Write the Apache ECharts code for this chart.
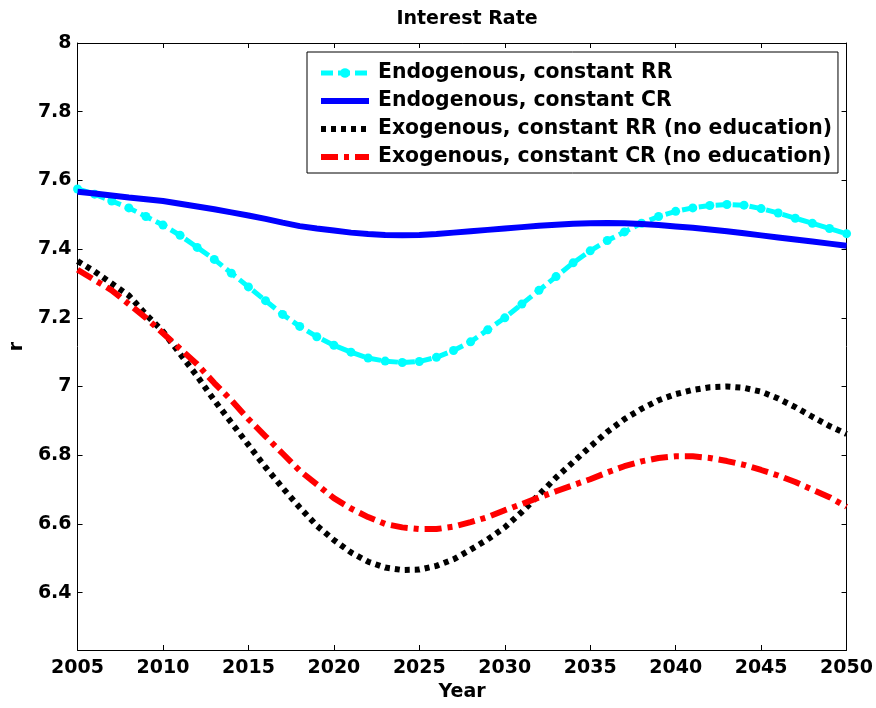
<!DOCTYPE html>
<html>
<head>
<meta charset="utf-8">
<script src="https://cdn.jsdelivr.net/npm/echarts@6/dist/echarts.min.js"></script>
<style>html,body{margin:0;padding:0;background:#fff}#chart{width:876px;height:708px}</style>
</head>
<body>
<div id="chart"></div>
<script>
const years = [2005,2006,2007,2008,2009,2010,2011,2012,2013,2014,2015,2016,2017,2018,2019,2020,2021,2022,2023,2024,2025,2026,2027,2028,2029,2030,2031,2032,2033,2034,2035,2036,2037,2038,2039,2040,2041,2042,2043,2044,2045,2046,2047,2048,2049,2050];
const endoRR = [7.575,7.56,7.54,7.52,7.495,7.47,7.44,7.405,7.37,7.33,7.29,7.25,7.21,7.175,7.145,7.12,7.1,7.083,7.074,7.07,7.073,7.085,7.105,7.13,7.165,7.2,7.24,7.28,7.32,7.36,7.395,7.425,7.45,7.475,7.495,7.51,7.52,7.527,7.53,7.528,7.518,7.505,7.49,7.475,7.46,7.445];
const endoCR = [7.567,7.562,7.556,7.55,7.545,7.54,7.532,7.524,7.516,7.507,7.498,7.488,7.477,7.467,7.46,7.454,7.448,7.444,7.441,7.44,7.441,7.444,7.448,7.452,7.456,7.46,7.464,7.468,7.471,7.474,7.475,7.476,7.475,7.473,7.47,7.466,7.462,7.457,7.452,7.446,7.44,7.434,7.428,7.422,7.416,7.41];
const exoRR = [7.365,7.335,7.3,7.265,7.21,7.16,7.095,7.03,6.96,6.895,6.83,6.765,6.705,6.648,6.595,6.553,6.517,6.49,6.473,6.466,6.467,6.478,6.497,6.525,6.555,6.59,6.635,6.685,6.735,6.78,6.825,6.868,6.905,6.935,6.96,6.978,6.99,6.998,7.0,6.996,6.985,6.965,6.94,6.912,6.885,6.862];
const exoCR = [7.34,7.31,7.28,7.24,7.2,7.155,7.11,7.065,7.01,6.96,6.905,6.855,6.805,6.755,6.715,6.675,6.645,6.62,6.6,6.59,6.585,6.585,6.592,6.605,6.62,6.64,6.658,6.677,6.695,6.713,6.73,6.75,6.768,6.782,6.792,6.797,6.797,6.792,6.783,6.772,6.757,6.741,6.722,6.7,6.678,6.65];
const yTicks = [6.4,6.6,6.8,7,7.2,7.4,7.6,7.8,8];
const names = ['Endogenous, constant RR','Endogenous, constant CR','Exogenous, constant RR (no education)','Exogenous, constant CR (no education)'];

const pair = arr => years.map((y,i)=>[y,arr[i]]);
const FONT = 'DejaVu Sans';
const chart = echarts.init(document.getElementById('chart'));
const axisCommon = {
  axisLine:{show:true,onZero:false,lineStyle:{color:'#000',width:1}},
  axisTick:{show:true,inside:true,length:5,lineStyle:{color:'#000'}},
  splitLine:{show:false}
};
chart.setOption({
  animation:false,
  backgroundColor:'#fff',
  title:{text:'Interest Rate',left:462,top:5,textAlign:'center',
    textStyle:{fontFamily:FONT,fontWeight:'bold',fontSize:19,color:'#000'}},
  grid:{left:76,right:28,top:43,bottom:58},
  legend:{
    orient:'vertical',left:307,top:52,
    padding:[11,6,6,11],itemGap:8,itemWidth:48,itemHeight:12,
    backgroundColor:'#fff',borderColor:'#000',borderWidth:1,
    textStyle:{fontFamily:FONT,fontWeight:'bold',fontSize:20.4,color:'#000',padding:[0,0,0,4]},
    data:[
      {name:names[0],lineStyle:{width:5}},
      {name:names[1],lineStyle:{width:6},itemStyle:{opacity:0}},
      {name:names[2],lineStyle:{width:6},itemStyle:{opacity:0}},
      {name:names[3],lineStyle:{width:6},itemStyle:{opacity:0}}
    ]
  },
  xAxis:[
    Object.assign({type:'value',min:2005,max:2050,interval:5,position:'bottom',
      name:'Year',nameLocation:'middle',nameGap:32,
      nameTextStyle:{fontFamily:FONT,fontWeight:'bold',fontSize:19,color:'#000'},
      axisLabel:{margin:9,fontFamily:FONT,fontWeight:'bold',fontSize:19,color:'#000',formatter:v=>String(v)}},axisCommon),
    Object.assign({type:'value',min:2005,max:2050,interval:5,position:'top',
      axisLabel:{show:false}},axisCommon)
  ],
  yAxis:[
    Object.assign({type:'value',min:6.233,max:8,position:'left',
      name:'r',nameLocation:'middle',nameGap:44,
      nameTextStyle:{fontFamily:FONT,fontWeight:'bold',fontSize:19,color:'#000'},
      axisLabel:{margin:6,fontFamily:FONT,fontWeight:'bold',fontSize:19,color:'#000',customValues:yTicks,
        formatter:v=>String(Math.round(v*10)/10)}},axisCommon,
      {axisTick:{show:true,inside:true,length:5,lineStyle:{color:'#000'},customValues:yTicks}}),
    Object.assign({type:'value',min:6.233,max:8,position:'right',
      axisLabel:{show:false,customValues:yTicks}},axisCommon,
      {axisTick:{show:true,inside:true,length:5,lineStyle:{color:'#000'},customValues:yTicks}})
  ],
  series:[
    {name:names[0],type:'line',data:pair(endoRR),symbol:'circle',symbolSize:9,showSymbol:true,
      itemStyle:{color:'#00ffff'},lineStyle:{color:'#00ffff',width:5,type:[12,5]},z:3},
    {name:names[1],type:'line',data:pair(endoCR),symbol:'none',
      itemStyle:{color:'#0000ff'},lineStyle:{color:'#0000ff',width:6,type:'solid'},z:4},
    {name:names[2],type:'line',data:pair(exoRR),symbol:'none',
      itemStyle:{color:'#000'},lineStyle:{color:'#000',width:6,type:[5,5],cap:'butt'},z:2},
    {name:names[3],type:'line',data:pair(exoCR),symbol:'none',
      itemStyle:{color:'#ff0000'},lineStyle:{color:'#ff0000',width:6,type:[17,6,5,6],cap:'butt'},z:2}
  ]
});
</script>
</body>
</html>
